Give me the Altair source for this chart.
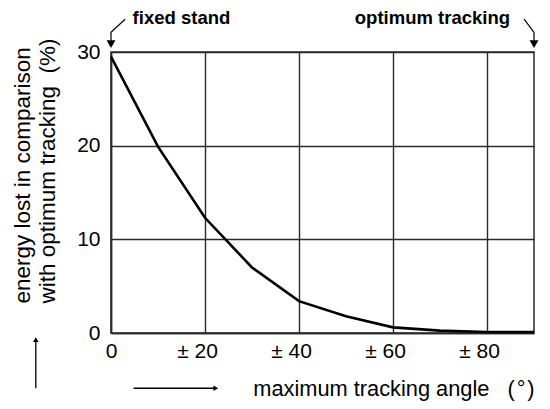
import altair as alt
import pandas as pd

# curve data
angle = [0, 10, 20, 30, 40, 50, 60, 70, 80, 90]
loss = [29.5, 19.9, 12.3, 7.0, 3.4, 1.8, 0.6, 0.25, 0.1, 0.1]

x_ticks = [0, 20, 40, 60, 80]
y_ticks = [0, 10, 20, 30]

# annotations (data units)
ann_text = ["fixed stand", "optimum tracking"]
ann_x = [4.6, 84.9]
ann_y = [33.6, 33.6]

lead_id = ["a", "a", "a", "b", "b", "b"]
lead_x = [3.0, 0, 0, 87.9, 90, 90]
lead_y = [33.5, 32.1, 31.2, 33.5, 32.1, 31.2]
lead_ord = [0, 1, 2, 0, 1, 2]
head_x = [0, 90]
head_y = [30.85, 30.85]

# direction arrows under the axes
ax_id = ["v", "v", "h", "h"]
ax_x = [-16.0, -16.0, 4.8, 22.0]
ax_y = [-5.9, -0.8, -5.9, -5.9]
ax_o = [0, 1, 0, 1]
ahead_x = [-16.0, 22.3]
ahead_y = [-0.7, -5.9]
ahead_shape = ["triangle-up", "triangle-right"]

FONT = "Liberation Sans"
INK = "#000000"

curve = pd.DataFrame({"angle": angle, "loss": loss})
ann = pd.DataFrame({"t": ann_text, "x": ann_x, "y": ann_y})
lead = pd.DataFrame({"id": lead_id, "x": lead_x, "y": lead_y, "o": lead_ord})
heads = pd.DataFrame({"x": head_x, "y": head_y})
arr = pd.DataFrame({"id": ax_id, "x": ax_x, "y": ax_y, "o": ax_o})
arrh = pd.DataFrame({"x": ahead_x, "y": ahead_y, "s": ahead_shape})

xs = alt.Scale(domain=[0, 90], nice=False)
ys = alt.Scale(domain=[0, 30], nice=False)

x_axis = alt.Axis(
    values=x_ticks,
    labelExpr="datum.value == 0 ? '0' : '± ' + datum.value",
    labelOffset={"condition": {"test": "datum.value == 0", "value": 0}, "value": -8},
    labelFlush=False,
    labelFontSize=21, labelFont=FONT, labelColor=INK, labelPadding=7,
    tickSize=0, grid=True, gridColor="#2a2a2a", gridWidth=1.4,
    domainColor="#2a2a2a", domainWidth=1.5,
    title="maximum tracking angle\u00a0\u00a0\u00a0(\u200a°\u200a)",
    titleFont=FONT, titleFontSize=21.8, titleFontWeight="normal", titleColor=INK,
    titleAnchor="end", titleAlign="right", titleX=423, titleY=55, titleBaseline="middle",
)
y_axis = alt.Axis(
    values=y_ticks,
    labelFlush=False,
    labelFontSize=21, labelFont=FONT, labelColor=INK, labelPadding=11,
    tickSize=0, grid=True, gridColor="#2a2a2a", gridWidth=1.4,
    domainColor="#2a2a2a", domainWidth=1.5,
    title=["energy lost in comparison", "with optimum tracking\u00a0\u00a0(%)"],
    titleFont=FONT, titleFontSize=22.5, titleFontWeight="normal", titleColor=INK,
    titleAngle=270, titleAlign="left", titleBaseline="top",
    titleX=-100, titleY=251, titleLineHeight=25,
)

line = alt.Chart(curve).mark_line(color="black", strokeWidth=2.6).encode(
    x=alt.X("angle:Q", scale=xs, axis=x_axis),
    y=alt.Y("loss:Q", scale=ys, axis=y_axis),
)

txt_l = alt.Chart(ann.iloc[[0]]).mark_text(
    font=FONT, fontSize=18.5, fontWeight="bold", color=INK, baseline="middle", align="left"
).encode(x=alt.X("x:Q", scale=xs), y=alt.Y("y:Q", scale=ys), text="t:N")
txt_r = alt.Chart(ann.iloc[[1]]).mark_text(
    font=FONT, fontSize=18.5, fontWeight="bold", color=INK, baseline="middle", align="right"
).encode(x=alt.X("x:Q", scale=xs), y=alt.Y("y:Q", scale=ys), text="t:N")

leaders = alt.Chart(lead).mark_line(color=INK, strokeWidth=1.2).encode(
    x=alt.X("x:Q", scale=xs), y=alt.Y("y:Q", scale=ys), detail="id:N", order="o:Q"
)
hd = alt.Chart(heads).mark_point(
    shape="triangle-down", filled=True, color=INK, size=80, opacity=1
).encode(x=alt.X("x:Q", scale=xs), y=alt.Y("y:Q", scale=ys))

arrows = alt.Chart(arr).mark_line(color=INK, strokeWidth=1.3).encode(
    x=alt.X("x:Q", scale=xs), y=alt.Y("y:Q", scale=ys), detail="id:N", order="o:Q"
)
arrow_heads = alt.Chart(arrh).mark_point(filled=True, color=INK, size=30, opacity=1).encode(
    x=alt.X("x:Q", scale=xs), y=alt.Y("y:Q", scale=ys),
    shape=alt.Shape("s:N", scale=None, legend=None),
)

chart = alt.layer(line, leaders, hd, txt_l, txt_r, arrows, arrow_heads).properties(
    width=423, height=281,
    background="white",
    autosize=alt.AutoSizeParams(type="none"),
    padding={"left": 103, "top": 44, "right": 8, "bottom": 68},
).configure_view(stroke="#2a2a2a", strokeWidth=1.5)

chart.save("out.html", embed_options={"renderer": "svg", "actions": False})
